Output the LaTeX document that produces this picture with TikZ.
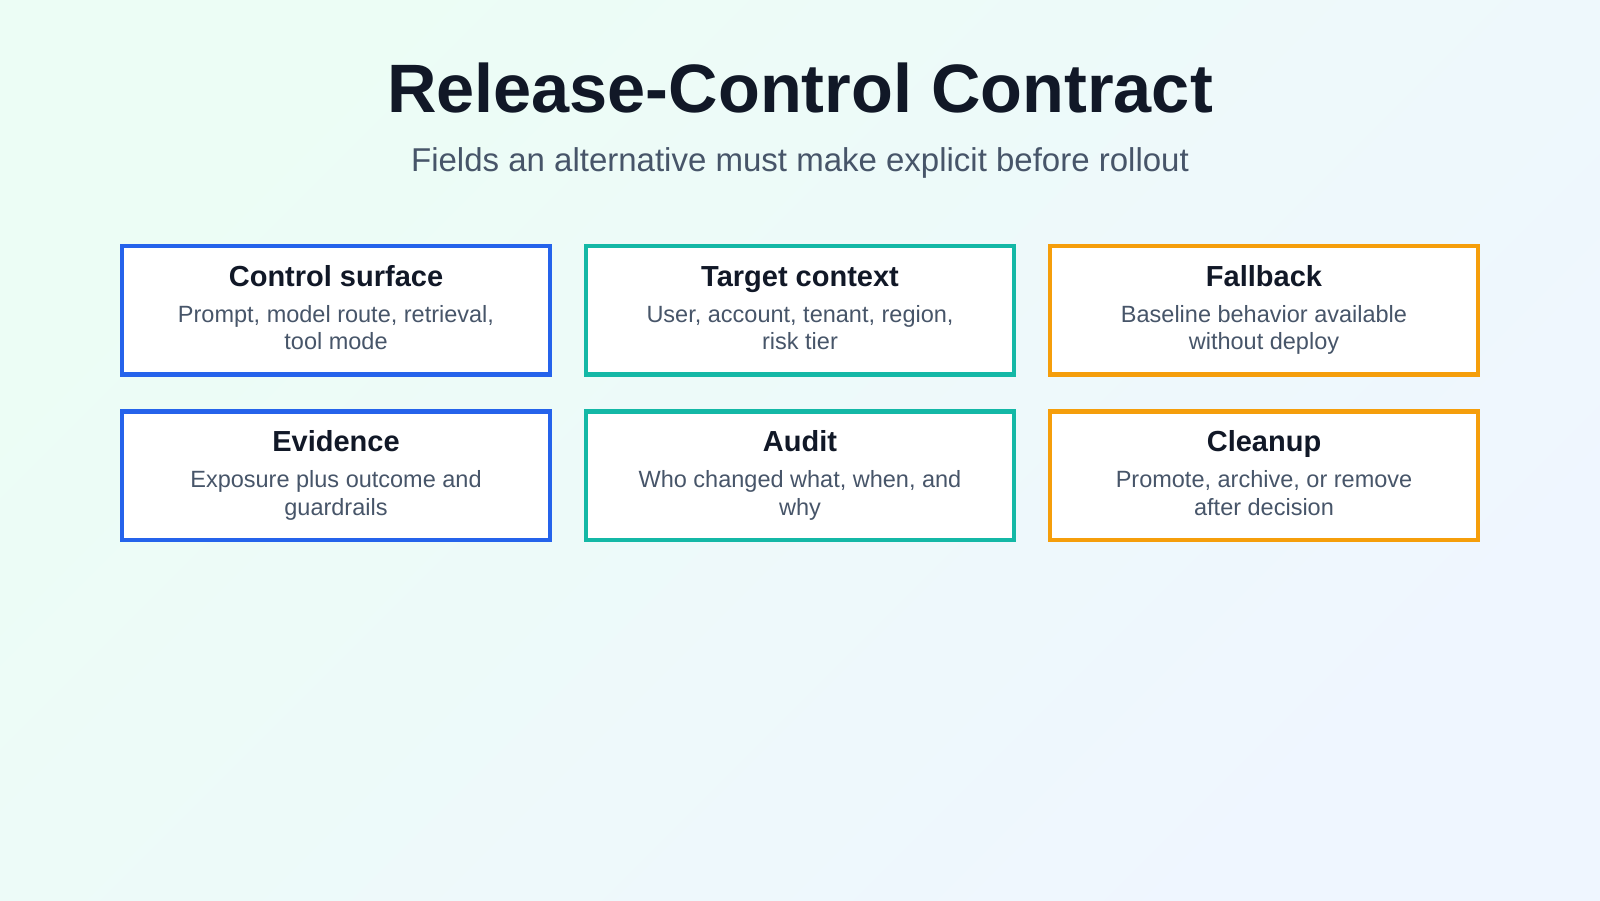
\documentclass[tikz,border=0pt]{standalone}
\usepackage{fontspec}
\setmainfont{Liberation Sans}
\definecolor{bgA}{HTML}{ECFDF5}
\definecolor{bgB}{HTML}{EFF6FF}
\definecolor{ink}{HTML}{111827}
\definecolor{slate}{HTML}{475569}
\definecolor{cblue}{HTML}{2563EB}
\definecolor{cteal}{HTML}{14B8A6}
\definecolor{corange}{HTML}{F59E0B}
\tikzset{
  card/.style={draw=#1, line width=4.5pt, fill=white, minimum width=428pt, minimum height=128.5pt, inner sep=0pt},
  cardtitle/.style={anchor=base, text=ink, font=\fontsize{29}{33}\selectfont\bfseries, inner sep=0pt},
  carddesc/.style={anchor=base, text=slate, font=\fontsize{23.5}{27.5}\selectfont, align=center, inner sep=0pt},
}
\begin{document}
\begin{tikzpicture}[x=1pt,y=-1pt]
\useasboundingbox (0,0) rectangle (1600,900);
\shade[top color=bgA, bottom color=bgB, shading angle=45] (0,0) rectangle (1600,900);
\node[anchor=base, text=ink, font=\fontsize{68.5}{80}\selectfont\bfseries, inner sep=0pt] (title) at (800,112) {Release-Control Contract};
\node[anchor=base, text=slate, font=\fontsize{33}{38}\selectfont, inner sep=0pt] (subtitle) at (800,171) {Fields an alternative must make explicit before rollout};
% row 1
\node[card=cblue] (b1) at (336,310) {};
\node[card=cteal] (b2) at (800,310) {};
\node[card=corange] (b3) at (1264,310) {};
% row 2
\node[card=cblue] (b4) at (336,475.5) {};
\node[card=cteal] (b5) at (800,475.5) {};
\node[card=corange] (b6) at (1264,475.5) {};
\foreach \b/\t/\da/\db in {
  b1/Control surface/{Prompt, model route, retrieval,}/tool mode,
  b2/Target context/{User, account, tenant, region,}/risk tier,
  b3/Fallback/Baseline behavior available/without deploy,
  b4/Evidence/Exposure plus outcome and/guardrails,
  b5/Audit/{Who changed what, when, and}/why,
  b6/Cleanup/{Promote, archive, or remove}/after decision}{
  \node[cardtitle] (\b-t) at ([yshift=-42.5pt]\b.north) {\t};
  \node[carddesc] (\b-d1) at ([yshift=-78.5pt]\b.north) {\da};
  \node[carddesc] (\b-d2) at ([yshift=-106pt]\b.north) {\db};
}
\end{tikzpicture}
\end{document}
